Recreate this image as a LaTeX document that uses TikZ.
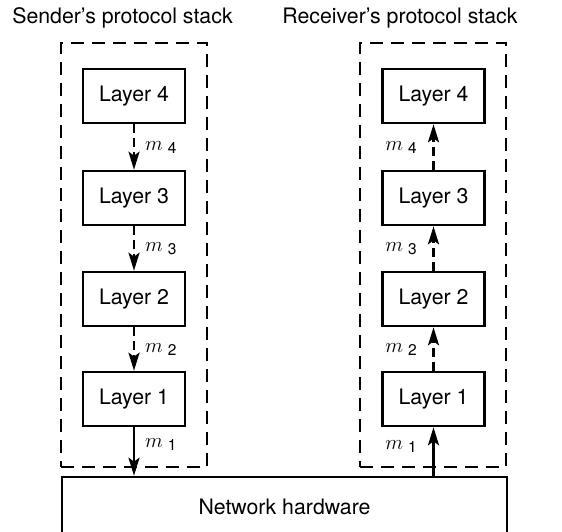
\documentclass[tikz,border=0pt]{standalone}
\usepackage{fontspec}
\setmainfont{TeX Gyre Heros}
\usetikzlibrary{arrows.meta}
% message label: italic m with a lowered sans index
\newcommand{\msgm}[1]{$m$\hspace{5pt}\raisebox{-0.3ex}{\fontsize{15.5}{16}\selectfont #1}}
\begin{document}
\begin{tikzpicture}[x=1pt,y=-1pt,
  every node/.style={font=\fontsize{21.3}{24}\selectfont},
  layer/.style={draw, line width=2.6pt, minimum width=102pt, minimum height=54pt, inner sep=0pt},
  stackbox/.style={draw, line width=2.4pt, dash pattern=on 13pt off 8pt, inner sep=0pt},
  flow/.style={line width=2.6pt, -{Stealth[length=18pt,width=11pt,inset=4pt]}},
  hop/.style={flow, dash pattern=on 9pt off 5pt},
  msg/.style={inner sep=0pt}
]
\useasboundingbox (0,0) rectangle (562,532);

% protocol stack frames and their titles
\node[stackbox, minimum width=146pt, minimum height=424pt] (sendframe) at (134,255) {};
\node[stackbox, minimum width=146pt, minimum height=424pt] (recvframe) at (433,255) {};
\node (sendtitle) at (122.5,18) {Sender’s protocol stack};
\node (recvtitle) at (400,18) {Receiver’s protocol stack};

% sender layers
\node[layer] (L4) at (134,96)  {Layer 4};
\node[layer] (L3) at (134,198) {Layer 3};
\node[layer] (L2) at (134,299) {Layer 2};
\node[layer] (L1) at (134,399) {Layer 1};

% receiver layers
\node[layer] (R4) at (433.5,96)  {Layer 4};
\node[layer] (R3) at (433.5,198) {Layer 3};
\node[layer] (R2) at (433.5,299) {Layer 2};
\node[layer] (R1) at (433.5,399) {Layer 1};

% shared network
\node[draw, line width=2.6pt, minimum width=445pt, minimum height=60pt] (net) at (284.5,507) {Network hardware};

% downward flow through the sender
\draw[hop] (L4.south) -- (L3.north);
\draw[hop] (L3.south) -- (L2.north);
\draw[hop] (L2.south) -- (L1.north);
\draw[flow] (L1.south) -- (L1.south |- net.north);

% upward flow through the receiver
\draw[flow] (net.north -| R1.south) -- (R1.south);
\draw[hop] (R1.north) -- (R2.south);
\draw[hop] (R2.north) -- (R3.south);
\draw[hop] (R3.north) -- (R4.south);

% message labels
\node[msg, anchor=base west] (ms4) at (145,150) {\msgm{4}};
\node[msg, anchor=base west] (ms3) at (145,251) {\msgm{3}};
\node[msg, anchor=base west] (ms2) at (145,352) {\msgm{2}};
\node[msg, anchor=base west] (ms1) at (145,447) {\msgm{1}};
\node[msg, anchor=base east] (mr4) at (417,150) {\msgm{4}};
\node[msg, anchor=base east] (mr3) at (417,251) {\msgm{3}};
\node[msg, anchor=base east] (mr2) at (417,352) {\msgm{2}};
\node[msg, anchor=base east] (mr1) at (417,449) {\msgm{1}};
\end{tikzpicture}
\end{document}
